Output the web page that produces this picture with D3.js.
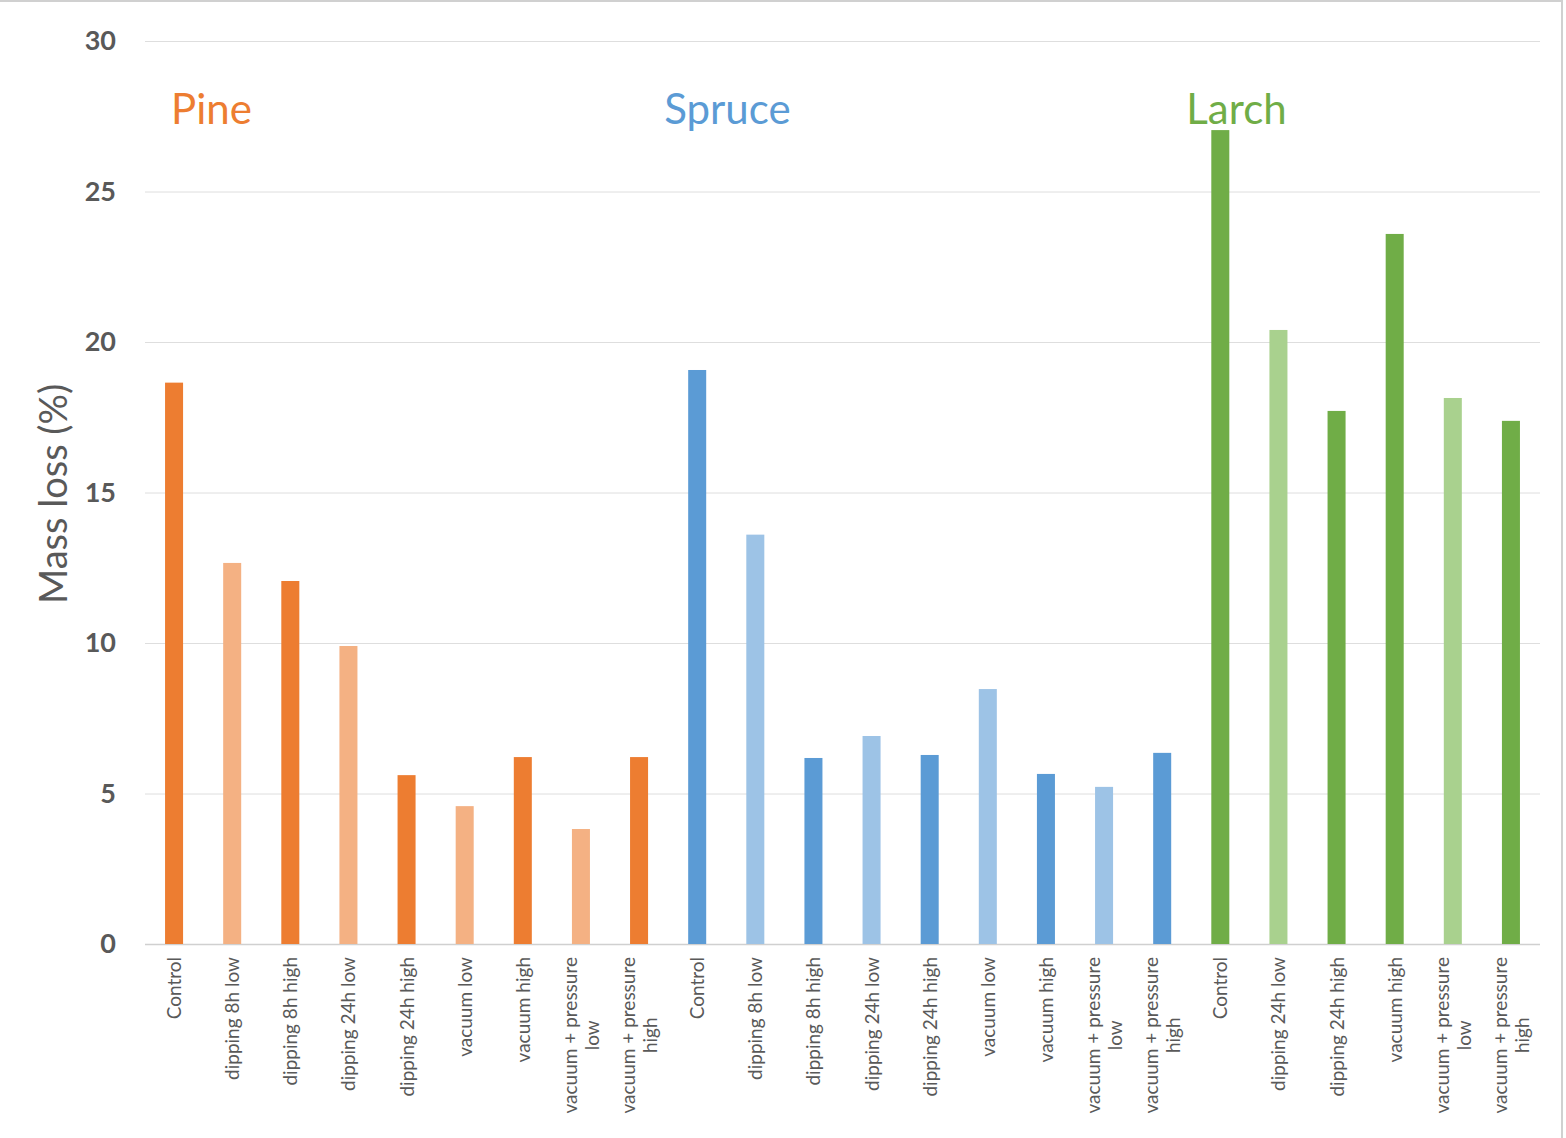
<!DOCTYPE html>
<html>
<head>
<meta charset="utf-8">
<script src="https://cdn.jsdelivr.net/npm/d3@7"></script>
<style>
  html, body { margin: 0; padding: 0; background: #fff; }
  svg { display: block; }
</style>
</head>
<body>
<svg id="chart" width="1566" height="1138"></svg>
<script>
// Mass loss (%) per wood species and treatment
const species = ["Pine", "Spruce", "Larch"];
const pineTreatments = ["Control", "dipping 8h low", "dipping 8h high", "dipping 24h low", "dipping 24h high",
  "vacuum low", "vacuum high", "vacuum + pressure low", "vacuum + pressure high"];
const spruceTreatments = ["Control", "dipping 8h low", "dipping 8h high", "dipping 24h low", "dipping 24h high",
  "vacuum low", "vacuum high", "vacuum + pressure low", "vacuum + pressure high"];
const larchTreatments = ["Control", "dipping 24h low", "dipping 24h high", "vacuum high",
  "vacuum + pressure low", "vacuum + pressure high"];
const pineValues = [18.65, 12.66, 12.06, 9.9, 5.61, 4.58, 6.21, 3.82, 6.21];
const spruceValues = [19.07, 13.6, 6.18, 6.91, 6.28, 8.47, 5.65, 5.22, 6.35];
const larchValues = [27.04, 20.4, 17.71, 23.59, 18.14, 17.38];
const yTicks = [0, 5, 10, 15, 20, 25, 30];

// dark = control / high treatments, light = low treatments
const speciesColors = {
  Pine:   { dark: "#ED7D31", light: "#F4B183" },
  Spruce: { dark: "#5B9BD5", light: "#9DC3E6" },
  Larch:  { dark: "#70AD47", light: "#A9D18E" }
};

const rows = [];
[[ "Pine", pineTreatments, pineValues ],
 [ "Spruce", spruceTreatments, spruceValues ],
 [ "Larch", larchTreatments, larchValues ]].forEach(([sp, cats, vals]) => {
  cats.forEach((c, i) => rows.push({
    key: sp + "|" + c, species: sp, label: c, value: vals[i],
    shade: /low$/.test(c) ? "light" : "dark"
  }));
});

const svg = d3.select("#chart");
const font = "Lato, 'Open Sans', sans-serif";
const grey = "#595959";

const x = d3.scaleBand().domain(rows.map(d => d.key)).range([145, 1540]).paddingInner(0.69).paddingOuter(0.345);
const y = d3.scaleLinear().domain([0, 30]).range([944, 41]);

// chart frame edges
svg.append("line").attr("x1", 0).attr("x2", 1563).attr("y1", 1).attr("y2", 1)
  .attr("stroke", "#d0d0d0").attr("stroke-width", 2);
svg.append("line").attr("x1", 1562).attr("x2", 1562).attr("y1", 0).attr("y2", 1138)
  .attr("stroke", "#d0d0d0").attr("stroke-width", 2);

// y axis: gridlines and bold tick labels
const yAxis = svg.append("g").attr("transform", "translate(145,0)")
  .call(d3.axisLeft(y).tickValues(yTicks).tickSize(-1395).tickPadding(29).tickFormat(d3.format("d")));
yAxis.select(".domain").remove();
yAxis.selectAll(".tick line").attr("stroke", d => d === 0 ? "#d0d0d0" : "#dedede").attr("stroke-width", d => d === 0 ? 1.5 : 1);
yAxis.selectAll(".tick text").attr("fill", grey).attr("font-family", font)
  .attr("font-size", 27).attr("font-weight", "bold");

// bars
svg.append("g").selectAll("rect").data(rows).join("rect")
  .attr("x", d => x(d.key)).attr("width", x.bandwidth())
  .attr("y", d => y(d.value)).attr("height", d => y(0) - y(d.value))
  .attr("fill", d => speciesColors[d.species][d.shade]);

// category labels, rotated; long labels wrap onto two centred lines
const labelSize = 19;
const labels = svg.append("g").selectAll("g").data(rows).join("g")
  .attr("transform", d => `translate(${x(d.key) + x.bandwidth() / 2},957) rotate(-90)`);
labels.each(function(d) {
  const g = d3.select(this);
  const m = d.label.match(/^(vacuum \+ pressure) (low|high)$/);
  const style = t => t.attr("font-family", font).attr("font-size", labelSize).attr("fill", grey);
  if (!m) {
    style(g.append("text")).attr("text-anchor", "end").attr("x", 0).attr("y", 7).text(d.label);
  } else {
    const t1 = style(g.append("text")).attr("text-anchor", "end").attr("x", 0).attr("y", -4).text(m[1]);
    const w = t1.node().getComputedTextLength();
    style(g.append("text")).attr("text-anchor", "middle").attr("x", -w / 2).attr("y", 18).text(m[2]);
  }
});

// species headings, set just left of each group's first bar
const headingShift = { Pine: 6, Spruce: -24, Larch: -25 };
species.forEach(sp => {
  const first = rows.find(r => r.species === sp);
  svg.append("text").attr("x", x(first.key) + headingShift[sp]).attr("y", 124)
    .attr("font-family", font).attr("font-size", 42)
    .attr("fill", speciesColors[sp].dark).text(sp);
});

// y axis title
svg.append("text").attr("transform", "translate(67,494) rotate(-90)")
  .attr("text-anchor", "middle").attr("font-family", font).attr("font-size", 38)
  .attr("fill", grey).text("Mass loss (%)");
</script>
</body>
</html>
